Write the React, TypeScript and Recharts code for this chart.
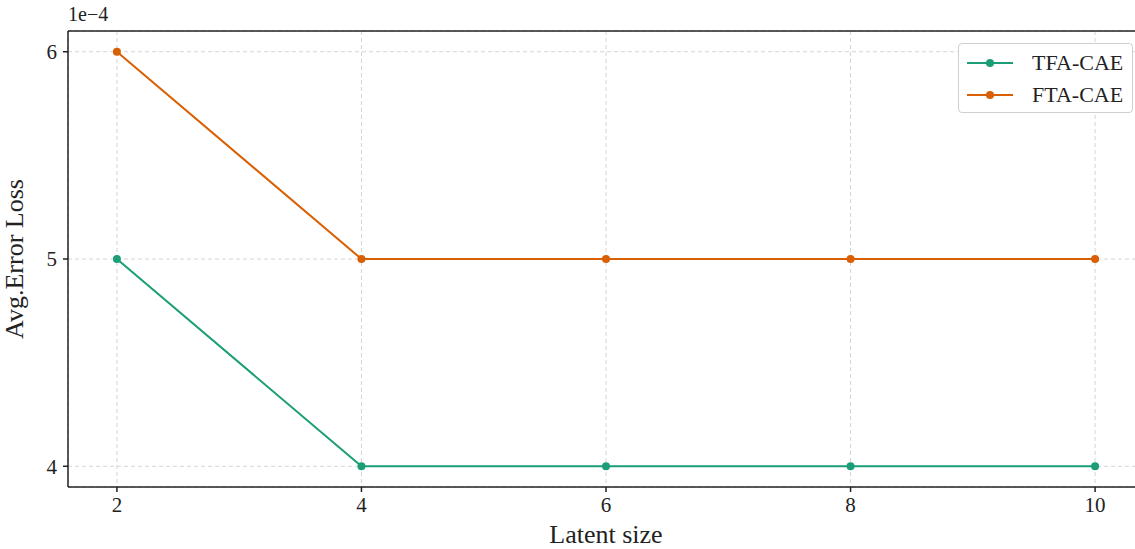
import { LineChart, Line, XAxis, YAxis, CartesianGrid, ReferenceLine } from 'recharts'

// values are in units of 1e-4
const latentSizes = [2, 4, 6, 8, 10]
const tfaCae = [5, 4, 4, 4, 4]
const ftaCae = [6, 5, 5, 5, 5]
const xTicks = [2, 4, 6, 8, 10]
const yTicks = [4, 5, 6]

const TFA_COLOR = '#1b9e77'
const FTA_COLOR = '#d95f02'
const FONT = '"Liberation Serif", "DejaVu Serif", serif'

const data = latentSizes.map((size, i) => ({
  size,
  tfa: tfaCae[i],
  fta: ftaCae[i],
}))

const series = [
  { key: 'tfa', name: 'TFA-CAE', color: TFA_COLOR },
  { key: 'fta', name: 'FTA-CAE', color: FTA_COLOR },
]

function LegendBox() {
  return (
    <div
      style={{
        position: 'absolute',
        left: 958,
        top: 43,
        boxSizing: 'border-box',
        width: 175,
        height: 70,
        border: '1px solid #cfcfcf',
        borderRadius: 4,
        background: '#fff',
        padding: '3px 0 0 8px',
        fontFamily: FONT,
        fontSize: 22,
        color: '#222',
      }}
    >
      {series.map((s) => (
        <div key={s.key} style={{ display: 'flex', alignItems: 'center', height: 32 }}>
          <svg width={48} height={12} style={{ marginRight: 17 }}>
            <line x1={0} y1={6} x2={46} y2={6} stroke={s.color} strokeWidth={2} />
            <circle cx={23} cy={6} r={4} fill={s.color} />
          </svg>
          <span>{s.name}</span>
        </div>
      ))}
    </div>
  )
}

export default function App() {
  return (
    <div style={{ position: 'fixed', left: 0, top: 0, width: 1135, height: 549, overflow: 'hidden', background: '#fff' }}>
      <div style={{ position: 'absolute', left: 68, top: 3, fontFamily: FONT, fontSize: 20, color: '#222' }}>1e−4</div>
      <LineChart width={1160} height={549} data={data} margin={{ top: 31, right: 16, left: 0, bottom: 0 }}>
        <CartesianGrid strokeDasharray="4 3" stroke="#d4d4d4" />
        <XAxis
          dataKey="size"
          type="number"
          domain={[1.6, 10.4]}
          ticks={xTicks}
          height={62}
          tickSize={5}
          stroke="#222"
          strokeWidth={1.5}
          tick={{ fill: '#222', fontSize: 21, fontFamily: FONT }}
          tickMargin={5}
          label={{ value: 'Latent size', position: 'insideBottom', offset: 6, fill: '#222', fontSize: 26, fontFamily: FONT }}
        />
        <YAxis
          type="number"
          domain={[3.9, 6.1]}
          ticks={yTicks}
          width={68}
          tickSize={5}
          stroke="#222"
          strokeWidth={1.5}
          tick={{ fill: '#222', fontSize: 21, fontFamily: FONT }}
          tickMargin={6}
          label={{ value: 'Avg.Error Loss', angle: -90, position: 'insideLeft', offset: 14, style: { textAnchor: 'middle' }, fill: '#222', fontSize: 26, fontFamily: FONT }}
        />
        <ReferenceLine y={6.1} stroke="#222" strokeWidth={1.5} />
        <ReferenceLine x={10.4} stroke="#222" strokeWidth={1.5} />
        {series.map((s) => (
          <Line
            key={s.key}
            type="linear"
            dataKey={s.key}
            name={s.name}
            stroke={s.color}
            strokeWidth={2}
            dot={{ r: 4, fill: s.color, stroke: 'none' }}
            activeDot={false}
            isAnimationActive={false}
          />
        ))}
      </LineChart>
      <LegendBox />
    </div>
  )
}
